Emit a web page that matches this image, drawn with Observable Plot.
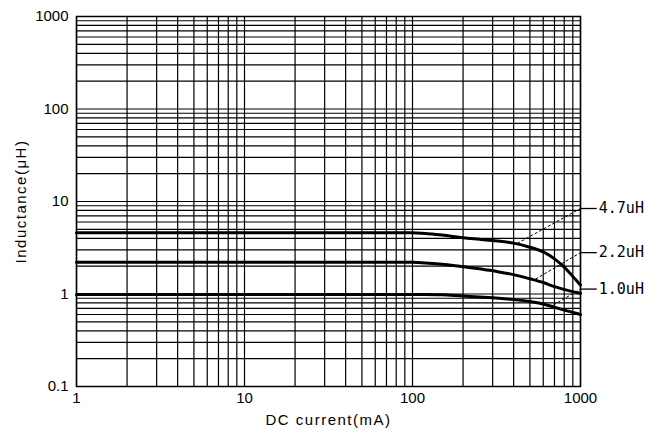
<!DOCTYPE html>
<html><head><meta charset="utf-8">
<script src="https://cdn.jsdelivr.net/npm/d3@7"></script>
<script src="https://cdn.jsdelivr.net/npm/@observablehq/plot@0.6"></script>
<style>
body{margin:0;background:#fff}
#chart svg g[aria-label="x-axis label"] text, #chart svg g[aria-label="y-axis label"] text{letter-spacing:1.5px}
</style></head><body><div id="chart"></div>
<script>
// DC current (mA)
const current = [1, 10, 100, 120, 150, 200, 250, 300, 400, 500, 600, 700, 800, 900, 1000];
// Inductance (uH) per series
const l47 = [4.6, 4.6, 4.6, 4.5, 4.35, 4.05, 3.9, 3.78, 3.55, 3.2, 2.85, 2.4, 1.95, 1.55, 1.25];
const l22 = [2.2, 2.2, 2.2, 2.16, 2.1, 1.97, 1.88, 1.78, 1.62, 1.46, 1.33, 1.2, 1.12, 1.06, 1.02];
const l10 = [0.99, 0.99, 0.99, 0.99, 0.98, 0.95, 0.93, 0.91, 0.87, 0.83, 0.78, 0.72, 0.67, 0.63, 0.6];
const seriesNames = ["4.7uH", "2.2uH", "1.0uH"];
// leader lines: start on curve, end at label height
const leaderFromX = [420, 540, 690];
const leaderFromY = [3.52, 1.45, 0.76];
const labelY = [8.4, 2.8, 1.13];
const xTickLabels = [1, 10, 100, 1000];
const yTickLabels = [0.1, 1, 10, 100, 1000];

const series = [l47, l22, l10];
const rows = [];
series.forEach((vals, s) => vals.forEach((v, i) => rows.push({series: seriesNames[s], current: current[i], L: v})));
const leaders = seriesNames.map((n, i) => ({name: n, fx: leaderFromX[i], fy: leaderFromY[i], ly: labelY[i]}));

const decades = (lo, hi) => { const out = []; for (let p = lo; p < hi; p++) for (let k = 1; k <= 9; k++) out.push(+(k * Math.pow(10, p)).toPrecision(3)); out.push(Math.pow(10, hi)); return out; };
const xGrid = decades(0, 3);
const yGrid = decades(-1, 3);

const chart = Plot.plot({
  width: 665, height: 435,
  marginLeft: 76, marginRight: 85, marginTop: 16, marginBottom: 49,
  style: {fontFamily: "'Liberation Sans', Arial, sans-serif", fontSize: "15px", color: "#000", background: "#fff"},
  x: {type: "log", domain: [1, 1000]},
  y: {type: "log", domain: [0.1, 1000]},
  marks: [
    Plot.gridX(xGrid, {stroke: "#000", strokeOpacity: 1, strokeWidth: 1.2}),
    Plot.gridY(yGrid, {stroke: "#000", strokeOpacity: 1, strokeWidth: 1.2}),
    Plot.frame({stroke: "#000", strokeWidth: 1.5}),
    Plot.axisX(xTickLabels, {tickSize: 0, tickPadding: 6, tickFormat: d => String(d), label: "DC current(mA)", labelAnchor: "center", labelArrow: "none", labelOffset: 38}),
    Plot.axisY(yTickLabels, {tickSize: 0, tickPadding: 8, tickFormat: d => String(d), label: "Inductance(μH)", labelAnchor: "center", labelArrow: "none", labelOffset: 61}),
    Plot.line(rows, {x: "current", y: "L", z: "series", stroke: "#000", strokeWidth: 3, curve: "monotone-x"}),
    Plot.link(leaders, {x1: "fx", y1: "fy", x2: () => 1000, y2: "ly", stroke: "#000", strokeWidth: 1, strokeDasharray: "3,2"}),
    Plot.link(leaders, {x1: () => 1000, y1: "ly", x2: () => 1250, y2: "ly", stroke: "#000", strokeWidth: 1.3}),
    Plot.text(leaders, {x: () => 1250, y: "ly", text: "name", textAnchor: "start", dx: 2, fontFamily: "'DejaVu Sans Mono', monospace", fontSize: 15, fill: "#000"})
  ]
});
document.getElementById("chart").appendChild(chart);
</script></body></html>
